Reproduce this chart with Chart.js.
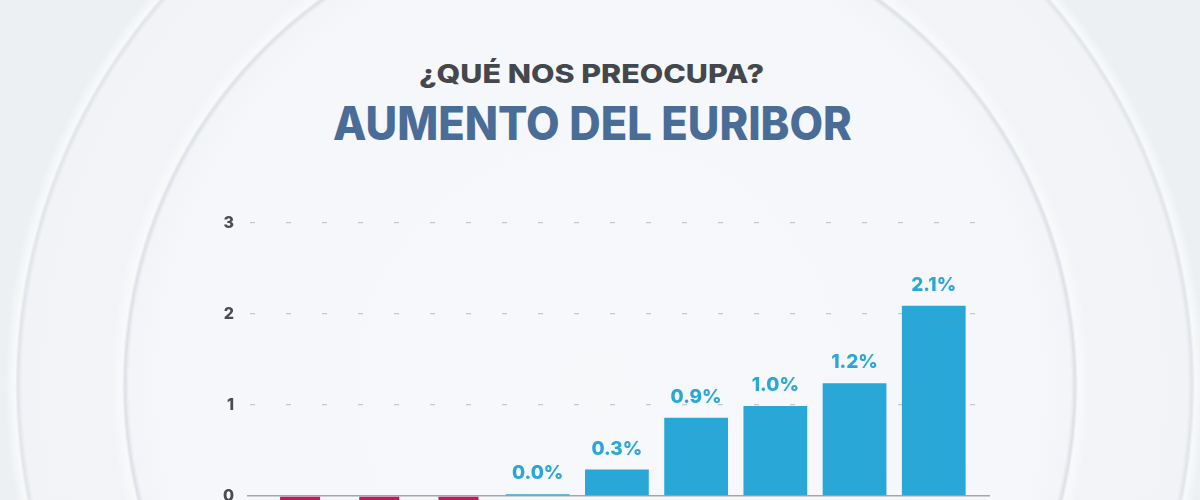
<!DOCTYPE html>
<html>
<head>
<meta charset="utf-8">
<script src="https://cdn.jsdelivr.net/npm/chart.js@4.4.0/dist/chart.umd.min.js"></script>
<style>
  html, body { margin: 0; padding: 0; }
  body {
    width: 1200px; height: 500px; overflow: hidden; position: relative;
    background-color: #edf0f3;
    background-image:
      radial-gradient(circle 600px at 605px 385px, rgba(255,255,255,0) 0, rgba(255,255,255,0) 583px, rgba(190,196,205,0.3) 587px, rgba(255,255,255,0.6) 590px, rgba(255,255,255,0) 600px),
      radial-gradient(circle 490px at 600px 385px, rgba(255,255,255,0) 0, rgba(255,255,255,0) 471px, rgba(186,192,201,0.38) 475px, rgba(255,255,255,0.5) 478px, rgba(255,255,255,0) 490px),
      radial-gradient(circle 476px at 600px 385px, #f7f8fa 0, #f6f7fa 440px, #f2f4f7 475px, rgba(242,244,247,0) 476px),
      radial-gradient(circle 592px at 605px 385px, #f3f5f7 0, #f1f3f6 582px, rgba(238,241,244,0) 592px);
    font-family: 'Inter', 'Open Sans', sans-serif;
  }
  .t { position: absolute; white-space: nowrap; font-weight: 800; line-height: 1; transform-origin: 50% 50%; }
  .t1 { top: 61px; font-size: 26px; color: #44474c; }
  .t2 { top: 100px; font-size: 46px; color: #4a6d98; }
  #wrap { position: absolute; left: 0; top: 0; width: 1200px; height: 600px; }
</style>
</head>
<body>
<div class="t t1" id="t1">¿QUÉ NOS PREOCUPA?</div>
<div class="t t2" id="t2">AUMENTO DEL EURIBOR</div>
<div id="wrap"><canvas id="c" width="1200" height="600"></canvas></div>
<script>
// Data (Euribor, %) — the first three values are below zero and cut off in the picture
const categories = ['ENE', 'FEB', 'MAR', 'ABR', 'MAY', 'JUN', 'JUL', 'AGO', 'SEP'];
const values = [-0.48, -0.34, -0.24, 0.02, 0.29, 0.86, 0.99, 1.24, 2.09];
const valueLabels = ['-0.5%', '-0.3%', '-0.2%', '0.0%', '0.3%', '0.9%', '1.0%', '1.2%', '2.1%'];
const yTicks = [0, 1, 2, 3];

// fit title widths to the reference
[['t1', 345, 591], ['t2', 519, 592]].forEach(([id, w, cx]) => {
  const el = document.getElementById(id);
  const ow = el.offsetWidth;
  el.style.left = (cx - ow / 2) + 'px';
  el.style.transform = 'scaleX(' + (w / ow) + ')';
});

const negData = [], posData = [];
values.forEach((v, i) => {
  if (v < 0) negData.push({ x: i, y: v, label: valueLabels[i] });
  else posData.push({ x: i, y: v, label: valueLabels[i] });
});

const labelPlugin = {
  id: 'valueLabels',
  afterDatasetsDraw(chart) {
    const ctx = chart.ctx;
    ctx.save();
    ctx.font = '800 19px Inter, "Open Sans", sans-serif';
    ctx.textAlign = 'center';
    chart.data.datasets.forEach((ds, di) => {
      const meta = chart.getDatasetMeta(di);
      meta.data.forEach((bar, j) => {
        const d = ds.data[j];
        ctx.fillStyle = ds.backgroundColor;
        if (d.y >= 0) {
          ctx.textBaseline = 'alphabetic';
          ctx.fillText(d.label, bar.x, bar.y - 15);
        } else {
          ctx.textBaseline = 'top';
          ctx.fillText(d.label, bar.x, bar.y + 12);
        }
      });
    });
    ctx.restore();
  }
};

new Chart(document.getElementById('c'), {
  type: 'bar',
  data: {
    datasets: [
      { label: 'negativo', data: negData, backgroundColor: '#c2185c', barPercentage: 0.505, categoryPercentage: 1 },
      { label: 'positivo', data: posData, backgroundColor: '#29a8d7', barPercentage: 0.805, categoryPercentage: 1 }
    ]
  },
  options: {
    responsive: false,
    animation: false,
    grouped: false,
    layout: { padding: { top: 223, bottom: 49.4, left: 0, right: 210 } },
    plugins: { legend: { display: false }, tooltip: { enabled: false } },
    scales: {
      x: {
        type: 'linear', offset: false, display: false,
        min: -0.67, max: 8.71,
        afterBuildTicks: (s) => { s.ticks = categories.map((c, i) => ({ value: i })); },
        ticks: { callback: (v) => categories[v] || '' }
      },
      y: {
        min: -0.6, max: 3,
        afterFit: (s) => { s.width = 247; },
        afterBuildTicks: (s) => { s.ticks = yTicks.map(v => ({ value: v })); },
        border: {
          display: false,
          dash: (c) => (c.tick && c.tick.value === 0) ? [] : [5, 31],
          dashOffset: -3
        },
        grid: {
          drawTicks: false,
          color: (c) => (c.tick && c.tick.value === 0) ? '#a3a7ac' : '#c4c8cd',
          lineWidth: (c) => (c.tick && c.tick.value === 0) ? 1.6 : 1.2
        },
        ticks: {
          padding: 13,
          color: '#4a4c51',
          font: { family: 'Inter, "Open Sans", sans-serif', size: 16, weight: '800' }
        }
      }
    }
  },
  plugins: [labelPlugin]
});
</script>
</body>
</html>
